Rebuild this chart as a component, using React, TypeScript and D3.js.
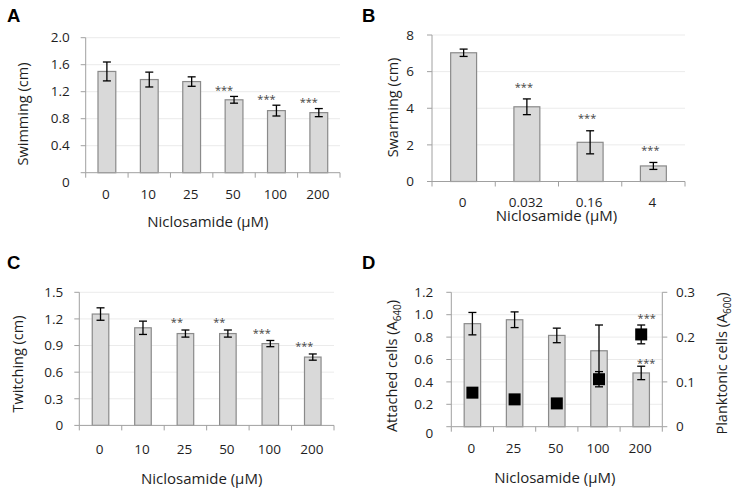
import React from "react";
import * as d3 from "d3";

// ---------- DATA ----------
const aCats = ["0", "10", "25", "50", "100", "200"];
const aMeans = [1.5, 1.38, 1.35, 1.08, 0.92, 0.89];
const aErrs = [0.14, 0.11, 0.07, 0.05, 0.08, 0.06];
const aStars = ["", "", "", "***", "***", "***"];
const aTicks = [0, 0.4, 0.8, 1.2, 1.6, 2.0];

const bCats = ["0", "0.032", "0.16", "4"];
const bMeans = [7.03, 4.08, 2.14, 0.85];
const bErrs = [0.2, 0.43, 0.63, 0.19];
const bStars = ["", "***", "***", "***"];
const bTicks = [0, 2, 4, 6, 8];

const cCats = ["0", "10", "25", "50", "100", "200"];
const cMeans = [1.255, 1.1, 1.035, 1.035, 0.922, 0.77];
const cErrs = [0.07, 0.075, 0.04, 0.04, 0.035, 0.035];
const cStars = ["", "", "**", "**", "***", "***"];
const cTicks = [0, 0.3, 0.6, 0.9, 1.2, 1.5];

const dCats = ["0", "25", "50", "100", "200"];
const dAttached = [0.92, 0.955, 0.815, 0.678, 0.48];
const dAttachedErrs = [0.1, 0.07, 0.065, 0.23, 0.06];
const dAttachedStars = ["", "", "", "", "***"];
const dPlanktonic = [0.076, 0.061, 0.052, 0.106, 0.206];
const dPlanktonicErrs = [0.005, 0.005, 0.005, 0.017, 0.021];
const dPlanktonicStars = ["", "", "", "", "***"];
const dLeftTicks = [0, 0.2, 0.4, 0.6, 0.8, 1.0, 1.2];
const dRightTicks = [0, 0.1, 0.2, 0.3];

// ---------- STYLE ----------
const FONT = "'Open Sans', 'DejaVu Sans', sans-serif";
const TEXT = "#1e1e1e";
const GRID = "#ebebeb";
const AXIS = "#a0a0a0";
const BAR_FILL = "#d9d9d9";
const BAR_STROKE = "#8a8a8a";

const fmt = (v: number) => (v === 0 ? "0" : d3.format(".1f")(v));
const fmtInt = (v: number) => d3.format("d")(v);

type PanelProps = {
  box: { left: number; right: number; top: number; bottom: number };
  cats: string[];
  means: number[];
  errs: number[];
  stars: string[];
  ticks: number[];
  tickFmt: (v: number) => string;
  barFrac: number;
  zeroDy: number;
  tickLabelGap: number;
  xLabelDy: number;
  titleDy: number;
  titleDx: number;
  yLabel: React.ReactNode;
  yLabelX: number;
  yLabelY: number;
  letter: string;
  letterX: number;
  letterY: number;
  starDx: number;
  starDy: number;
  children?: (x: d3.ScaleBand<string>) => React.ReactNode;
};

function ErrBar({ x, y1, y2 }: { x: number; y1: number; y2: number }) {
  return (
    <g stroke="#000" strokeWidth={1.3}>
      <line x1={x} x2={x} y1={y1} y2={y2} />
      <line x1={x - 4} x2={x + 4} y1={y1} y2={y1} />
      <line x1={x - 4} x2={x + 4} y1={y2} y2={y2} />
    </g>
  );
}

function Stars({ x, y, s }: { x: number; y: number; s: string }) {
  if (!s) return null;
  return (
    <text x={x} y={y + 6} textAnchor="middle" fontSize={11} fill="#444" fontFamily={FONT}>
      {s}
    </text>
  );
}

function Panel(p: PanelProps) {
  const { box } = p;
  const yMax = p.ticks[p.ticks.length - 1];
  const y = d3.scaleLinear().domain([0, yMax]).range([box.bottom, box.top]);
  const x = d3.scaleBand<string>().domain(p.cats).range([box.left, box.right]).padding(0);
  const step = x.step();
  const bw = step * p.barFrac;
  const bounds = d3.range(p.cats.length + 1).map((i) => box.left + i * step);
  return (
    <g>
      {p.ticks.filter((t) => t > 0).map((t) => (
        <line key={"g" + t} x1={box.left} x2={box.right} y1={y(t)} y2={y(t)} stroke={GRID} strokeWidth={1} />
      ))}
      {p.means.map((m, i) => {
        const cx = (x(p.cats[i]) as number) + step / 2;
        return (
          <g key={"b" + i}>
            <rect x={cx - bw / 2} y={y(m)} width={bw} height={box.bottom - y(m)} fill={BAR_FILL} stroke={BAR_STROKE} strokeWidth={1.2} />
            <ErrBar x={cx} y1={y(m + p.errs[i])} y2={y(m - p.errs[i])} />
            <Stars x={cx + p.starDx} y={y(m + p.errs[i]) + p.starDy} s={p.stars[i]} />
          </g>
        );
      })}
      {p.children ? p.children(x) : null}
      {/* y axis */}
      <line x1={box.left} x2={box.left} y1={box.top} y2={box.bottom} stroke={AXIS} strokeWidth={1} />
      {p.ticks.map((t) => (
        <g key={"yt" + t}>
          <line x1={box.left - 5} x2={box.left} y1={y(t)} y2={y(t)} stroke={AXIS} strokeWidth={1} />
          <text x={box.left - p.tickLabelGap} y={y(t) + (t === 0 ? p.zeroDy : 0)} dy="0.35em" textAnchor="end" fontSize={13.5} fill={TEXT} fontFamily={FONT}>
            {p.tickFmt(t)}
          </text>
        </g>
      ))}
      {/* x axis */}
      <line x1={box.left} x2={box.right} y1={box.bottom} y2={box.bottom} stroke={AXIS} strokeWidth={1} />
      {bounds.map((bx, i) => (
        <line key={"xt" + i} x1={bx} x2={bx} y1={box.bottom} y2={box.bottom + 5} stroke={AXIS} strokeWidth={1} />
      ))}
      {p.cats.map((c) => (
        <text key={"xl" + c} x={(x(c) as number) + step / 2 - 1} y={box.bottom + p.xLabelDy} dy="0.35em" textAnchor="middle" fontSize={13.5} fill={TEXT} fontFamily={FONT}>
          {c}
        </text>
      ))}
      <text x={(box.left + box.right) / 2 + p.titleDx} y={box.bottom + p.titleDy} dy="0.35em" textAnchor="middle" fontSize={15} fill={TEXT} fontFamily={FONT}>
        Niclosamide (µM)
      </text>
      <text transform={`translate(${p.yLabelX},${p.yLabelY}) rotate(-90)`} dy="0.35em" textAnchor="middle" fontSize={14.5} fill={TEXT} fontFamily={FONT}>
        {p.yLabel}
      </text>
      <text x={p.letterX} y={p.letterY} fontSize={18.5} fontWeight="bold" fill="#000" fontFamily="'Liberation Sans', Arial, sans-serif">
        {p.letter}
      </text>
    </g>
  );
}

export default function App() {
  const dBox = { left: 451.3, right: 662.3, top: 292.3, bottom: 426.7 };
  const yR = d3.scaleLinear().domain([0, 0.3]).range([dBox.bottom, dBox.top]);
  return (
    <svg width={733} height={489} style={{ position: "absolute", left: 0, top: 0, background: "#fff" }}>
      <rect width={733} height={489} fill="#fff" />
      <Panel
        box={{ left: 85.7, right: 340, top: 37.7, bottom: 172.7 }}
        cats={aCats} means={aMeans} errs={aErrs} stars={aStars} ticks={aTicks} tickFmt={fmt}
        barFrac={0.42} zeroDy={10} tickLabelGap={16} xLabelDy={21.5} titleDy={49} titleDx={-5}
        yLabel="Swimming (cm)" yLabelX={23.3} yLabelY={114}
        letter="A" letterX={7} letterY={22} starDx={-10} starDy={-8.5}
      />
      <Panel
        box={{ left: 432, right: 685, top: 35, bottom: 181.5 }}
        cats={bCats} means={bMeans} errs={bErrs} stars={bStars} ticks={bTicks} tickFmt={fmtInt}
        barFrac={0.41} zeroDy={0} tickLabelGap={18} xLabelDy={21} titleDy={34.5} titleDx={-2}
        yLabel="Swarming (cm)" yLabelX={392.7} yLabelY={107.5}
        letter="B" letterX={362} letterY={22} starDx={-3} starDy={-14.3}
      />
      <Panel
        box={{ left: 79.3, right: 334, top: 292.3, bottom: 425.4 }}
        cats={cCats} means={cMeans} errs={cErrs} stars={cStars} ticks={cTicks} tickFmt={fmt}
        barFrac={0.39} zeroDy={0} tickLabelGap={16} xLabelDy={24} titleDy={53} titleDx={-5}
        yLabel="Twitching (cm)" yLabelX={18.3} yLabelY={364}
        letter="C" letterX={7} letterY={268.5} starDx={-8.5} starDy={-9.8}
      />
      <Panel
        box={dBox}
        cats={dCats} means={dAttached} errs={dAttachedErrs} stars={dAttachedStars} ticks={dLeftTicks} tickFmt={fmt}
        barFrac={0.39} zeroDy={7} tickLabelGap={18} xLabelDy={21.7} titleDy={50.6} titleDx={-2}
        yLabel={<>Attached cells (A<tspan fontSize={10} dy="4">640</tspan><tspan dy="-4">)</tspan></>}
        yLabelX={391.7} yLabelY={366}
        letter="D" letterX={362} letterY={268.5} starDx={5} starDy={-5}
      >
        {(x) => {
          const step = x.step();
          return (
            <g>
              {dPlanktonic.map((v, i) => {
                const cx = (x(dCats[i]) as number) + step / 2;
                return (
                  <g key={"sq" + i}>
                    <ErrBar x={cx} y1={yR(v + dPlanktonicErrs[i])} y2={yR(v - dPlanktonicErrs[i])} />
                    <rect x={cx - 6} y={yR(v) - 6} width={12} height={12} fill="#000" />
                    <Stars x={cx + 5.5} y={yR(v + dPlanktonicErrs[i]) - 8.7} s={dPlanktonicStars[i]} />
                  </g>
                );
              })}
              {/* right axis */}
              <line x1={dBox.right} x2={dBox.right} y1={dBox.top} y2={dBox.bottom} stroke={AXIS} strokeWidth={1} />
              {dRightTicks.map((t) => (
                <g key={"rt" + t}>
                  <line x1={dBox.right} x2={dBox.right + 5} y1={yR(t)} y2={yR(t)} stroke={AXIS} strokeWidth={1} />
                  <text x={dBox.right + 13.7} y={yR(t)} dy="0.35em" textAnchor="start" fontSize={13.5} fill={TEXT} fontFamily={FONT}>
                    {fmt(t)}
                  </text>
                </g>
              ))}
              <text transform={`translate(${721.7},${363.5}) rotate(-90)`} dy="0.35em" textAnchor="middle" fontSize={14.5} fill={TEXT} fontFamily={FONT}>
                Planktonic cells (A<tspan fontSize={10} dy="4">600</tspan><tspan dy="-4">)</tspan>
              </text>
            </g>
          );
        }}
      </Panel>
    </svg>
  );
}
